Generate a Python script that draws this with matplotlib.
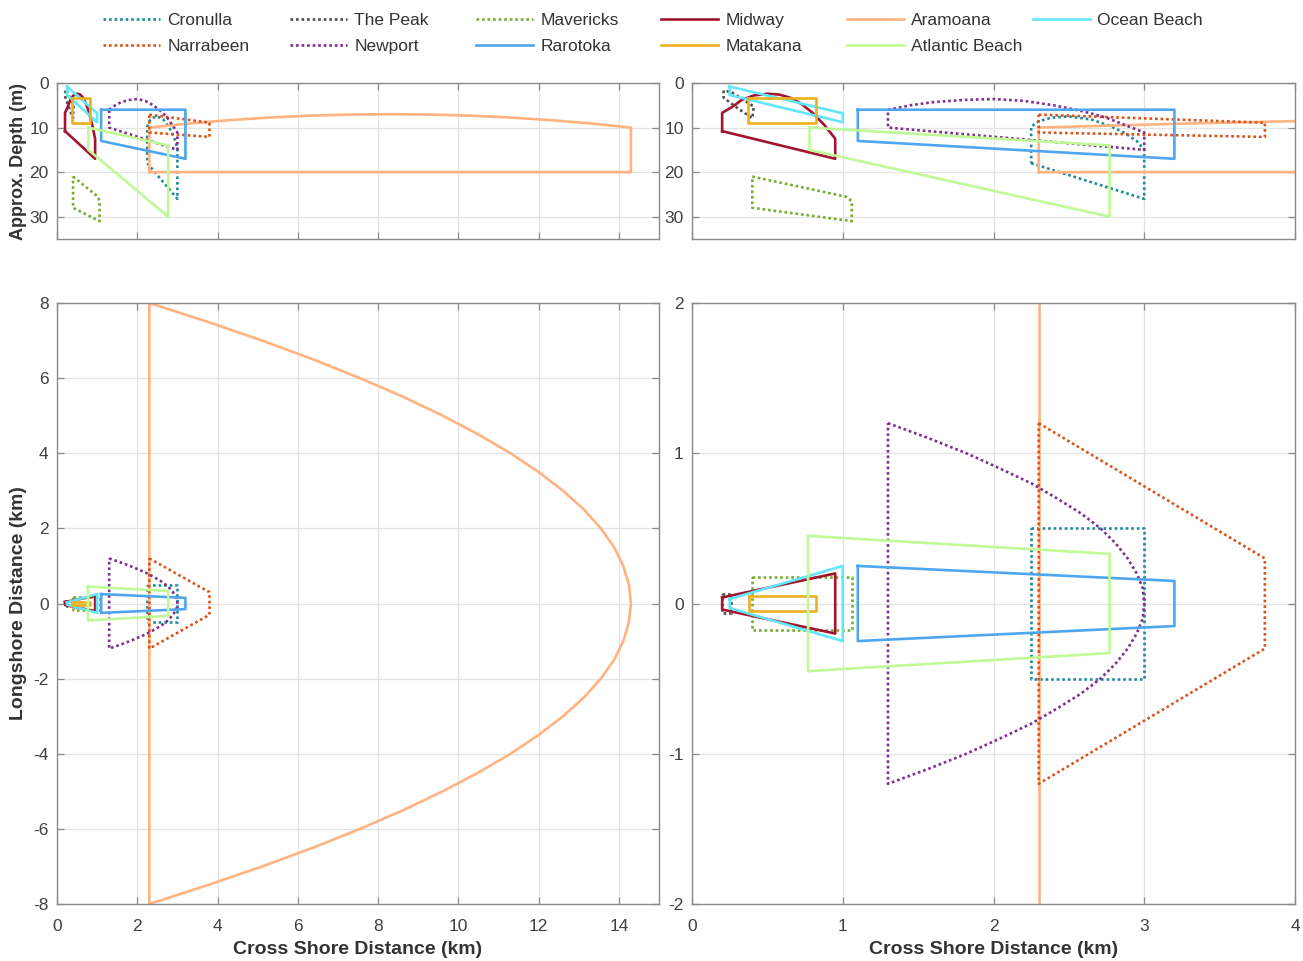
import matplotlib
matplotlib.use("Agg")
import matplotlib.pyplot as plt

plt.rcParams["font.family"] = ["Liberation Sans", "DejaVu Sans"]
plt.rcParams["axes.unicode_minus"] = False

# site names, in the order they are drawn
sites = ["Cronulla", "The Peak", "Mavericks", "Midway", "Aramoana", "Ocean Beach",
         "Narrabeen", "Newport", "Rarotoka", "Matakana", "Atlantic Beach"]
colors = ["#1d8a9c", "#4d4d4d", "#77ac30", "#a2142f", "#ffb380", "#62e6fa",
          "#d95319", "#7e2f8e", "#4da6ee", "#edb120", "#c0fa96"]
dotted = [True, True, True, False, False, False, True, True, False, False, False]

# plan view outlines: (cross shore km, longshore km)
cronulla_plan = [(2.25, 0.5), (3.0, 0.5), (3.0, -0.5), (2.25, -0.5)]
peak_plan = [(0.2, 0.06), (0.26, 0.06), (0.26, -0.06), (0.2, -0.06)]
mavericks_plan = [(0.4, 0.175), (1.06, 0.175), (1.06, -0.175), (0.4, -0.175)]
midway_plan = [(0.2, 0.04), (0.95, 0.2), (0.95, -0.2), (0.2, -0.04)]
aramoana_plan = [(2.3, 8.0), (3.75, 7.5), (5.11, 7.0), (6.38, 6.5), (7.55, 6.0), (8.63, 5.5),
                 (9.61, 5.0), (10.5, 4.5), (11.3, 4.0), (12.0, 3.5), (12.61, 3.0), (13.13, 2.5),
                 (13.55, 2.0), (13.88, 1.5), (14.11, 1.0), (14.25, 0.5), (14.3, 0.0),
                 (14.25, -0.5), (14.11, -1.0), (13.88, -1.5), (13.55, -2.0), (13.13, -2.5),
                 (12.61, -3.0), (12.0, -3.5), (11.3, -4.0), (10.5, -4.5), (9.61, -5.0),
                 (8.63, -5.5), (7.55, -6.0), (6.38, -6.5), (5.11, -7.0), (3.75, -7.5), (2.3, -8.0)]
ocean_plan = [(0.25, 0.03), (1.0, 0.25), (1.0, -0.25), (0.25, -0.03)]
narrabeen_plan = [(2.3, 1.2), (3.8, 0.3), (3.8, -0.3), (2.3, -1.2)]
newport_plan = [(1.3, 1.2), (1.57, 1.1), (1.82, 1.0), (2.04, 0.9), (2.25, 0.8), (2.42, 0.7),
                (2.58, 0.6), (2.71, 0.5), (2.81, 0.4), (2.89, 0.3), (2.95, 0.2), (2.99, 0.1),
                (3.0, 0.0), (2.99, -0.1), (2.95, -0.2), (2.89, -0.3), (2.81, -0.4), (2.71, -0.5),
                (2.58, -0.6), (2.42, -0.7), (2.25, -0.8), (2.04, -0.9), (1.82, -1.0),
                (1.57, -1.1), (1.3, -1.2)]
rarotoka_plan = [(1.1, 0.25), (3.2, 0.15), (3.2, -0.15), (1.1, -0.25)]
matakana_plan = [(0.38, 0.05), (0.82, 0.05), (0.82, -0.05), (0.38, -0.05)]
atlantic_plan = [(0.77, 0.45), (2.77, 0.33), (2.77, -0.33), (0.77, -0.45)]

# depth profiles: (cross shore km, approx depth m)
cronulla_depth = [(2.25, 18.0), (3.0, 26.0), (3.0, 15.0), (2.95, 13.0), (2.87, 11.2), (2.77, 9.6),
                  (2.65, 8.2), (2.5, 7.5), (2.38, 7.8), (2.3, 8.6), (2.25, 9.8)]
peak_depth = [(0.21, 1.7), (0.21, 3.3), (0.3, 5.6), (0.4, 7.9), (0.41, 5.3), (0.32, 3.3), (0.26, 2.0)]
mavericks_depth = [(0.4, 21.0), (1.02, 25.5), (1.06, 26.5), (1.06, 31.0), (0.4, 28.0)]
midway_depth = [(0.2, 10.8), (0.2, 6.7), (0.27, 5.3), (0.33, 3.8), (0.41, 2.8), (0.5, 2.4),
                (0.58, 2.6), (0.66, 3.4), (0.73, 4.8), (0.8, 6.7), (0.88, 9.5), (0.95, 12.5),
                (0.95, 17.0)]
aramoana_depth = [(2.3, 20.0), (14.3, 20.0), (14.3, 10.0), (13.3, 9.08), (12.3, 8.33), (11.3, 7.75),
                  (10.3, 7.33), (9.3, 7.08), (8.3, 7.0), (7.3, 7.08), (6.3, 7.33), (5.3, 7.75),
                  (4.3, 8.33), (3.3, 9.08), (2.3, 10.0)]
ocean_depth = [(0.25, 0.8), (1.0, 6.8), (1.0, 8.8), (0.25, 2.7)]
narrabeen_depth = [(2.3, 7.1), (3.8, 8.9), (3.8, 12.1), (2.3, 11.1)]
newport_depth = [(1.3, 6.0), (1.45, 5.0), (1.6, 4.3), (1.8, 3.8), (2.0, 3.6), (2.2, 4.0), (2.4, 5.0),
                 (2.6, 6.4), (2.75, 7.8), (2.9, 9.8), (3.0, 11.1), (3.0, 15.0), (1.3, 10.0)]
rarotoka_depth = [(1.1, 6.0), (3.2, 6.0), (3.2, 17.0), (1.1, 13.0)]
matakana_depth = [(0.37, 3.3), (0.82, 3.3), (0.82, 9.0), (0.37, 9.0)]
atlantic_depth = [(0.78, 10.0), (2.77, 14.0), (2.77, 30.0), (0.78, 15.0)]

plans = [cronulla_plan, peak_plan, mavericks_plan, midway_plan, aramoana_plan, ocean_plan,
         narrabeen_plan, newport_plan, rarotoka_plan, matakana_plan, atlantic_plan]
depths = [cronulla_depth, peak_depth, mavericks_depth, midway_depth, aramoana_depth, ocean_depth,
          narrabeen_depth, newport_depth, rarotoka_depth, matakana_depth, atlantic_depth]

# legend columns as they appear left to right
legend_cols = [["Cronulla", "Narrabeen"], ["The Peak", "Newport"], ["Mavericks", "Rarotoka"],
               ["Midway", "Matakana"], ["Aramoana", "Atlantic Beach"], ["Ocean Beach"]]

W, H = 1303, 961
fig = plt.figure(figsize=(W / 100, H / 100), dpi=100)


def box(x0, y0, x1, y1):
    return [x0 / W, 1 - y1 / H, (x1 - x0) / W, (y1 - y0) / H]


ax_tl = fig.add_axes(box(57, 83, 659, 239))
ax_tr = fig.add_axes(box(692, 83, 1295, 239))
ax_bl = fig.add_axes(box(57, 303, 659, 904))
ax_br = fig.add_axes(box(692, 303, 1295, 904))


def closed(pts):
    xs = [p[0] for p in pts] + [pts[0][0]]
    ys = [p[1] for p in pts] + [pts[0][1]]
    return xs, ys


handles = {}
for name, col, dot, plan, depth in zip(sites, colors, dotted, plans, depths):
    ls = (0, (1, 1.1)) if dot else "-"
    for ax in (ax_tl, ax_tr):
        xs, ys = closed(depth)
        ax.plot(xs, ys, color=col, ls=ls, lw=1.9)
    for ax in (ax_bl, ax_br):
        xs, ys = closed(plan)
        line, = ax.plot(xs, ys, color=col, ls=ls, lw=1.9)
    handles[name] = line

spine_col = "#8a8a8a"
for ax in (ax_tl, ax_tr, ax_bl, ax_br):
    ax.grid(True, color="#e3e3e3", lw=0.9)
    ax.set_axisbelow(True)
    ax.tick_params(direction="in", length=5, width=0.9, color=spine_col, labelcolor="#404040",
                   labelsize=12.5, pad=6, top=True, right=True)
    ax.tick_params(axis="x", pad=11)
    for s in ax.spines.values():
        s.set_color(spine_col)
        s.set_linewidth(1.0)

for ax in (ax_tl, ax_tr):
    ax.set_ylim(35, 0)
    ax.set_yticks([0, 10, 20, 30])
    ax.tick_params(labelbottom=False)

ax_tl.set_xlim(0, 15)
ax_tl.set_xticks(range(0, 15, 2))
ax_tr.set_xlim(0, 4)
ax_tr.set_xticks(range(0, 5))
ax_bl.set_xlim(0, 15)
ax_bl.set_xticks(range(0, 15, 2))
ax_bl.set_ylim(-8, 8)
ax_bl.set_yticks(range(-8, 9, 2))
ax_br.set_xlim(0, 4)
ax_br.set_xticks(range(0, 5))
ax_br.set_ylim(-2, 2)
ax_br.set_yticks(range(-2, 3))

lab = dict(fontweight="bold", color="#333333")
ax_tl.set_ylabel("Approx. Depth (m)", fontsize=13, **lab)
ax_bl.set_ylabel("Longshore Distance (km)", fontsize=14, **lab)
ax_tl.yaxis.set_label_coords(-0.05, 0.5)
ax_bl.yaxis.set_label_coords(-0.05, 0.5)
ax_bl.set_xlabel("Cross Shore Distance (km)", fontsize=14, labelpad=5, **lab)
ax_br.set_xlabel("Cross Shore Distance (km)", fontsize=14, labelpad=5, **lab)

col_x = [103, 290, 476, 661, 847, 1033]
for cx, names in zip(col_x, legend_cols):
    fig.legend([handles[n] for n in names], names, loc="upper left",
               bbox_to_anchor=(cx / W, 1 - 13 / H), frameon=False, fontsize=12.5,
               handlelength=3.3, handletextpad=0.4, borderpad=0, borderaxespad=0,
               labelspacing=0.62, labelcolor="#333333")

fig.savefig("out.png", dpi=100)
